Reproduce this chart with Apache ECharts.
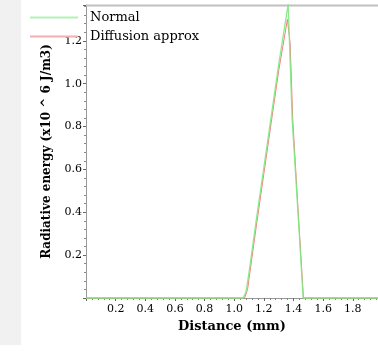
<!DOCTYPE html>
<html><head><meta charset="utf-8">
<script src="https://cdn.jsdelivr.net/npm/echarts@6/dist/echarts.min.js"></script>
<style>html,body{margin:0;padding:0;background:#fff}#c{width:378px;height:351px}</style>
</head><body><div id="c"></div>
<script>
var seriesNames = ['Normal', 'Diffusion approx'];
var normalX = [0, 0.5, 1.0, 1.06, 1.08, 1.10, 1.15, 1.20, 1.25, 1.30, 1.364, 1.391, 1.404, 1.43, 1.465, 1.7, 1.97];
var normalY = [0, 0, 0, 0, 0.03, 0.12, 0.37, 0.61, 0.85, 1.09, 1.37, 0.83, 0.69, 0.40, 0, 0, 0];
var diffX = [0, 0.5, 1.0, 1.07, 1.09, 1.10, 1.15, 1.20, 1.25, 1.30, 1.359, 1.377, 1.395, 1.43, 1.467, 1.7, 1.97];
var diffY = [0, 0, 0, 0, 0.04, 0.09, 0.34, 0.58, 0.82, 1.06, 1.30, 1.19, 0.833, 0.42, 0, 0, 0];
var xTicks = [0.2, 0.4, 0.6, 0.8, 1.0, 1.2, 1.4, 1.6, 1.8];
var yTicks = [0.2, 0.4, 0.6, 0.8, 1.0, 1.2];

function pairs(xs, ys){ return xs.map(function(x,i){ return [x, ys[i]]; }); }
var font = 'DejaVu Serif';
var green = '#80e880', red = '#f08080';
var chart = echarts.init(document.getElementById('c'));
chart.setOption({
  animation: false,
  backgroundColor: '#fff',
  graphic: [
    {type:'rect', left:0, top:0, shape:{width:21, height:345}, style:{fill:'#f1f1f1'}, z:-1},
    {type:'line', shape:{x1:86, y1:5.5, x2:378, y2:5.5}, style:{stroke:'#c0c0c0', lineWidth:2}, z:1}
  ],
  legend: {
    orient: 'vertical', left: 25, top: 4, itemGap: 2,
    icon: 'rect', itemWidth: 48, itemHeight: 2,
    textStyle: {fontFamily: font, fontSize: 13, color: '#000', padding: [0,0,0,7], lineHeight: 17},
    data: [
      {name: seriesNames[0], itemStyle: {color: '#b4f2b4'}},
      {name: seriesNames[1], itemStyle: {color: '#f4b0b0'}}
    ]
  },
  grid: {left: 86, top: 5, right: 0, bottom: 53},
  xAxis: {
    type: 'value', min: 0, max: 1.97, interval: 0.2, z: 0,
    name: 'Distance (mm)', nameLocation: 'middle', nameGap: 15,
    nameTextStyle: {fontFamily: font, fontSize: 13, fontWeight: 'bold', color: '#000'},
    axisLine: {show: true, onZero: false, lineStyle: {color: '#999', width: 1}},
    axisTick: {show: true, inside: false, length: 3, lineStyle: {color: '#666'}},
    minorTick: {show: true, splitNumber: 5, length: 2, lineStyle: {color: '#888'}},
    splitLine: {show: false},
    axisLabel: {fontFamily: font, fontSize: 11, color: '#000', margin: 6, showMaxLabel: false,
      formatter: function(v){ return xTicks.indexOf(Math.round(v*10)/10) >= 0 ? v.toFixed(1) : ''; }}
  },
  yAxis: {
    type: 'value', min: 0, max: 1.367, interval: 0.2, z: 0,
    name: 'Radiative energy (x10 ^ 6 J/m3)', nameLocation: 'middle', nameGap: 33,
    nameTextStyle: {fontFamily: font, fontSize: 12, fontWeight: 'bold', color: '#000'},
    axisLine: {show: true, lineStyle: {color: '#999', width: 1}},
    axisTick: {show: true, length: 3, lineStyle: {color: '#666'}},
    minorTick: {show: true, splitNumber: 5, length: 2, lineStyle: {color: '#888'}},
    splitLine: {show: false},
    axisLabel: {fontFamily: font, fontSize: 11, color: '#000', margin: 4, showMaxLabel: false,
      formatter: function(v){ return yTicks.indexOf(Math.round(v*10)/10) >= 0 ? v.toFixed(1) : ''; }}
  },
  series: [
    {name: seriesNames[1], type: 'line', data: pairs(diffX, diffY), showSymbol: false, symbol: 'none', clip: false,
      lineStyle: {color: red, width: 1}, itemStyle: {color: red}, z: 20, zlevel: 1},
    {name: seriesNames[0], type: 'line', data: pairs(normalX, normalY), showSymbol: false, symbol: 'none', clip: false,
      lineStyle: {color: green, width: 1.3, opacity: 0.9}, itemStyle: {color: green}, z: 21, zlevel: 1}
  ]
});
</script></body></html>
